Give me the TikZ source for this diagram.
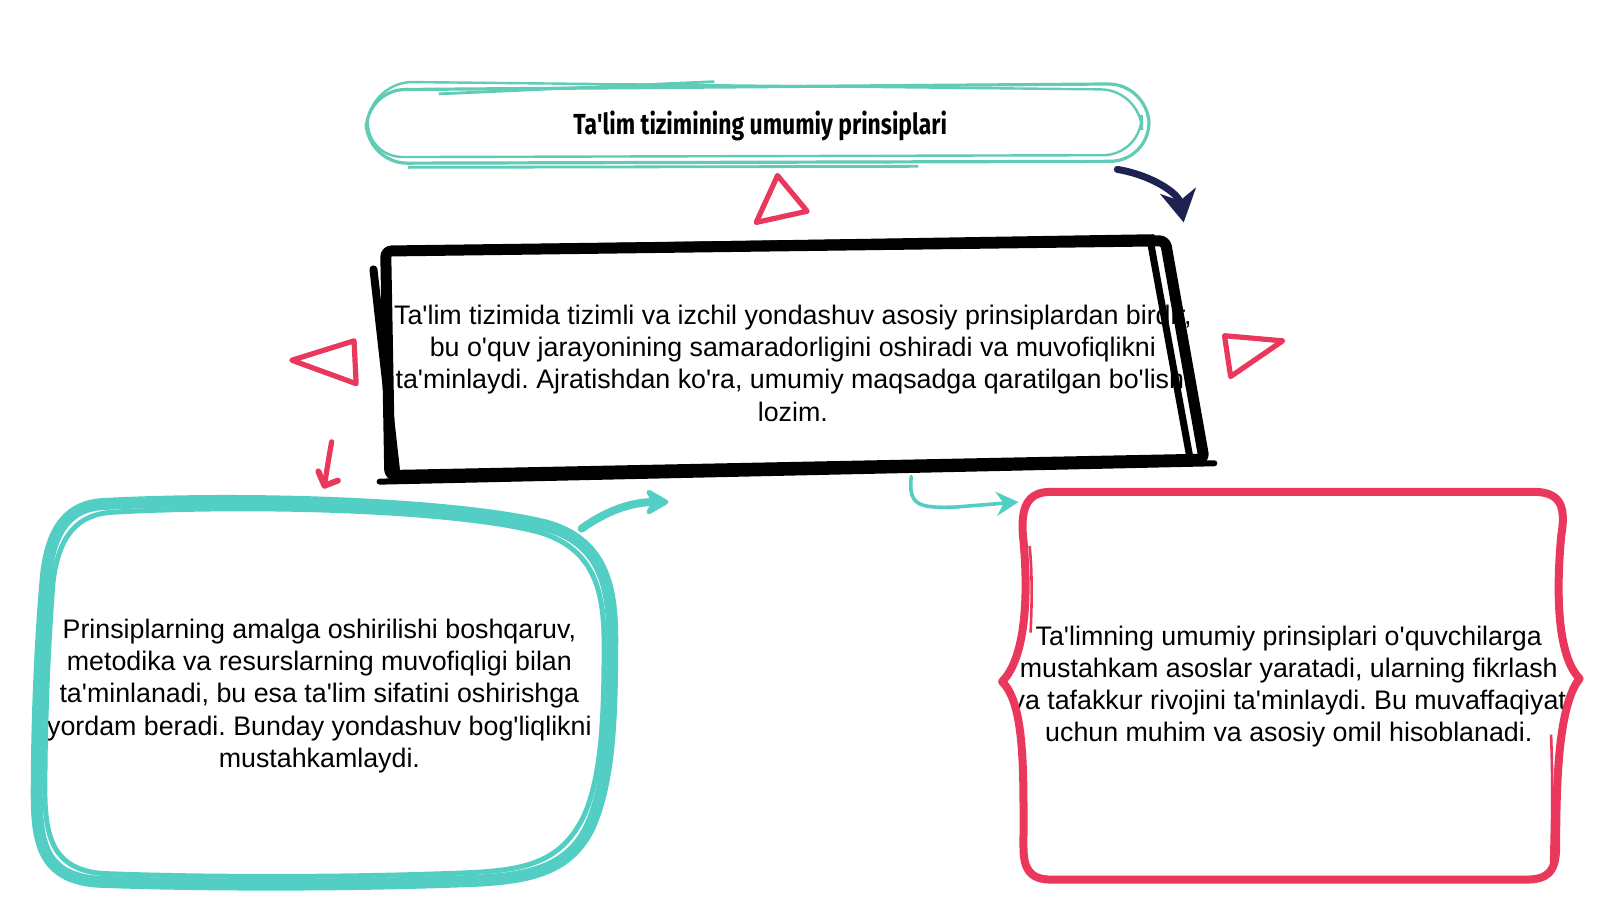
\documentclass[tikz,border=0pt]{standalone}
\usepackage{fontspec}
\setmainfont{Liberation Sans}
\newfontfamily\titlefont{Fira Sans}
\usetikzlibrary{arrows.meta}
\definecolor{tealA}{RGB}{96,204,182}
\definecolor{tealB}{RGB}{82,206,196}
\definecolor{redc}{RGB}{233,56,92}
\definecolor{navy}{RGB}{30,34,82}
\newcommand\ap{\textquotesingle}
\frenchspacing
\tikzset{
  bodytext/.style={align=center,font=\fontsize{13.4pt}{16.1pt}\selectfont,text=black,inner sep=0pt},
  titlestroke/.style={draw=tealA,line width=1.6pt,rounded corners=20pt},
  blackstroke/.style={draw=black,line width=5.5pt,line join=round,line cap=round,rounded corners=3pt},
  tealstroke/.style={draw=tealB,line width=6pt,line join=round},
  redstroke/.style={draw=redc,line width=4pt,line join=round},
  tri/.style={draw=redc,line width=2.6pt,line join=round},
}
\begin{document}
\begin{tikzpicture}[x=0.5102pt,y=-0.5102pt]
\useasboundingbox[fill=white] (0,0) rectangle (1568,882);

% ---- title box
\draw[titlestroke] (358,88) -- (1125,82) -- (1127,158) -- (360,160) -- cycle;
\draw[titlestroke,line width=1.2pt] (365,80) -- (1118,88) -- (1120,152) -- (356,154) -- cycle;
\draw[tealA,line width=1.4pt] (430,92) -- (700,80);
\draw[tealA,line width=1.4pt] (400,164) -- (900,163);
\node (title) at (745,123) {\scalebox{0.79}[1]{\titlefont\bfseries\fontsize{14.5pt}{16pt}\selectfont Ta\ap lim tizimining umumiy prinsiplari}};

% ---- main text and black box
\node[bodytext] (main) at (777,356) {Ta\ap lim tizimida tizimli va izchil yondashuv asosiy prinsiplardan birdir,\\
bu o\ap quv jarayonining samaradorligini oshiradi va muvofiqlikni\\
ta\ap minlaydi. Ajratishdan ko\ap ra, umumiy maqsadga qaratilgan bo\ap lishi\\
lozim.};
\draw[blackstroke] (378,246) -- (1142,236) -- (1180,450) -- (382,466) -- cycle;
\draw[black,line width=3.5pt,line cap=round] (1128,240) -- (1166,448);
\draw[black,line width=4pt,line cap=round] (366,264) -- (388,460);
\draw[black,line width=3pt,line cap=round] (372,472) -- (1190,454);
\draw[black,line width=2.5pt,line cap=round] (380,244) -- (1130,232);

% ---- triangles
\draw[tri] (762,172) -- (791,207) -- (741,218) -- cycle;
\draw[tri] (286,353) -- (347,334) -- (349,376) -- cycle;
\draw[tri] (1200,329) -- (1257,334) -- (1206,369) -- cycle;

% ---- left teal box
\node[bodytext] (left) at (313,682) {Prinsiplarning amalga oshirilishi boshqaruv,\\
metodika va resurslarning muvofiqligi bilan\\
ta\ap minlanadi, bu esa ta\ap lim sifatini oshirishga\\
yordam beradi. Bunday yondashuv bog\ap liqlikni\\
mustahkamlaydi.};
\draw[tealstroke] (100,494) .. controls (250,486) and (450,494) .. (535,515)
  .. controls (588,530) and (600,570) .. (600,625)
  .. controls (600,700) and (598,765) .. (578,810)
  .. controls (558,852) and (520,860) .. (470,863)
  .. controls (350,868) and (200,868) .. (95,864)
  .. controls (45,860) and (36,830) .. (36,780)
  .. controls (36,700) and (40,620) .. (45,565)
  .. controls (50,515) and (70,496) .. (100,494) -- cycle;
\draw[tealB,line width=2.5pt,line join=round] (110,502) .. controls (250,494) and (450,500) .. (530,522)
  .. controls (580,538) and (592,575) .. (592,630)
  .. controls (592,700) and (590,760) .. (572,800)
  .. controls (550,845) and (515,852) .. (465,855)
  .. controls (350,860) and (200,860) .. (100,856)
  .. controls (55,852) and (44,825) .. (44,775)
  .. controls (44,700) and (48,620) .. (52,570)
  .. controls (58,522) and (78,504) .. (110,502);

% ---- right red box
\node[bodytext] (right) at (1263,673) {Ta\ap limning umumiy prinsiplari o\ap quvchilarga\\
mustahkam asoslar yaratadi, ularning fikrlash\\
va tafakkur rivojini ta\ap minlaydi. Bu muvaffaqiyat\\
uchun muhim va asosiy omil hisoblanadi.};
\draw[redstroke] (1030,482) -- (1505,482) .. controls (1532,483) and (1534,500) .. (1530,525)
  .. controls (1524,590) and (1528,645) .. (1548,665)
  .. controls (1528,690) and (1525,760) .. (1525,830)
  .. controls (1525,856) and (1515,862) .. (1495,862) -- (1030,862)
  .. controls (1008,862) and (1003,850) .. (1003,830)
  .. controls (1003,760) and (1005,690) .. (982,668)
  .. controls (1005,645) and (1008,585) .. (1003,530)
  .. controls (999,495) and (1008,482) .. (1030,482) -- cycle;
\draw[redc,line width=1.3pt] (1009,535) .. controls (1012,565) and (1011,595) .. (1010,620);
\draw[redc,line width=1.3pt] (1520,720) .. controls (1522,770) and (1521,810) .. (1520,848);

% ---- arrows
\coordinate (n1) at (1095,166);
\coordinate (n2) at (1160,218);
\draw[navy,line width=3.5pt,line cap=round,-{Stealth[length=16pt,width=18pt,inset=5pt]}]
  (n1) .. controls (1130,172) and (1155,190) .. (n2);

\coordinate (r1) at (325,433);
\coordinate (r2) at (318,476);
\draw[redc,line width=2.6pt,line cap=round,line join=round]
  (r1) .. controls (322,450) and (320,462) .. (r2);
\draw[redc,line width=3pt,line cap=round,line join=round] (312,462) -- (r2) -- (331,471);

\coordinate (t1) at (570,518);
\coordinate (t2) at (655,492);
\draw[tealB,line width=4pt,line cap=round,-{Stealth[length=14pt,width=16pt,round]}]
  (t1) .. controls (595,500) and (620,492) .. (t2);

\coordinate (s1) at (893,467);
\coordinate (s2) at (998,492);
\draw[tealB,line width=1.8pt,line cap=round,-{Stealth[length=11pt,width=12pt]}]
  (s1) .. controls (890,495) and (900,498) .. (935,497) -- (s2);
\end{tikzpicture}
\end{document}
